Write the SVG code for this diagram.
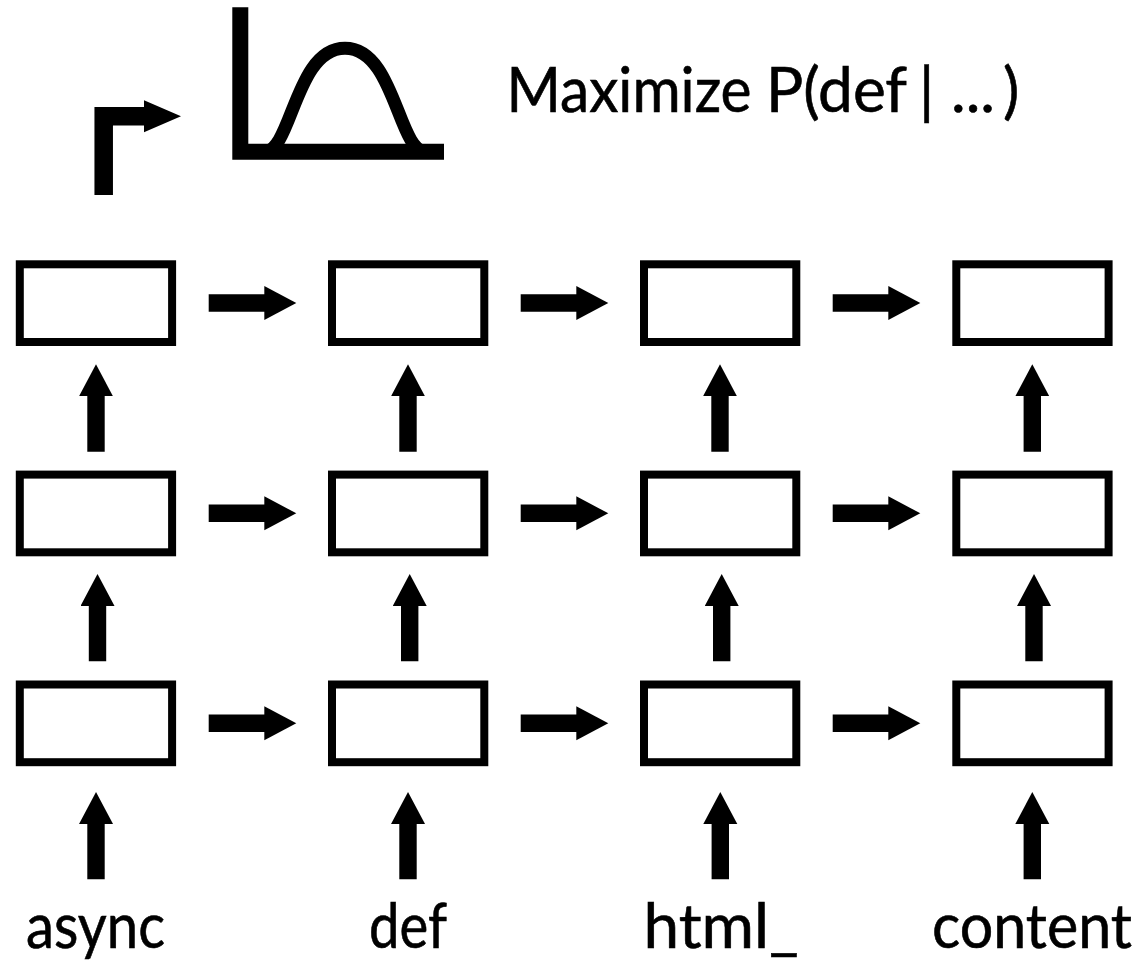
<svg xmlns="http://www.w3.org/2000/svg" width="1143" height="962" viewBox="0 0 1143 962">
<style>
.box{fill:#fff;stroke:#000;stroke-width:8}
.conn{fill:none;stroke:#000;stroke-width:17.4;marker-end:url(#head)}
.elbow{fill:none;stroke:#000;stroke-width:18.5;marker-end:url(#head2)}
.t{font-family:"Lato","Liberation Sans",sans-serif;fill:#000;stroke:#000;stroke-width:.6;font-size:61px}
</style>
<defs>
<marker id="head" markerUnits="userSpaceOnUse" markerWidth="33" markerHeight="35" refX="1" refY="17" orient="auto"><path d="M0 0L32 17L0 34z" fill="#000" stroke="none"/></marker>
<marker id="head2" markerUnits="userSpaceOnUse" markerWidth="38" markerHeight="34" refX="1" refY="16.2" orient="auto"><path d="M0 0L37.3 16.2L0 32.4z" fill="#000" stroke="none"/></marker>
</defs>
<rect width="1143" height="962" fill="#fff"/>
<g id="plot">
<path d="M240.3 7.3V151.8H444" fill="none" stroke="#000" stroke-width="16"/>
<path d="M264 152C292 152 295 48.2 345 48.2C395 48.2 398 152 426 152" fill="none" stroke="#000" stroke-width="13"/>
</g>
<text id="title" class="t" y="112"><tspan x="506.5" textLength="245" lengthAdjust="spacingAndGlyphs">Maximize</tspan> <tspan x="766" textLength="140" lengthAdjust="spacingAndGlyphs">P(def</tspan> <tspan x="919">|</tspan> <tspan x="951" textLength="44" lengthAdjust="spacingAndGlyphs">...</tspan> <tspan x="1003">)</tspan></text>
<g id="connectors">
<path class="elbow" d="M103.7 195V116.2H144.7"/>
<path class="conn" d="M208.7 303H265.3"/><path class="conn" d="M520.7 303H577.3"/><path class="conn" d="M832.7 303H889.3"/>
<path class="conn" d="M208.7 513.3H265.3"/><path class="conn" d="M520.7 513.3H577.3"/><path class="conn" d="M832.7 513.3H889.3"/>
<path class="conn" d="M208.7 723.3H265.3"/><path class="conn" d="M520.7 723.3H577.3"/><path class="conn" d="M832.7 723.3H889.3"/>
<path class="conn" d="M96 451.7V395.3"/><path class="conn" d="M408 451.7V395.3"/><path class="conn" d="M720 451.7V395.3"/><path class="conn" d="M1032.3 451.7V395.3"/>
<path class="conn" d="M97.5 661.3V605"/><path class="conn" d="M409.7 661.3V605"/><path class="conn" d="M721.7 661.3V605"/><path class="conn" d="M1034 661.3V605"/>
<path class="conn" d="M96 879.3V823"/><path class="conn" d="M408 879.3V823"/><path class="conn" d="M720.3 879.3V823"/><path class="conn" d="M1032.3 879.3V823"/>
</g>
<g id="n1"><rect class="box" x="19.8" y="264.3" width="152.3" height="77.7"/></g>
<g id="n2"><rect class="box" x="332" y="264.3" width="152.3" height="77.7"/></g>
<g id="n3"><rect class="box" x="644" y="264.3" width="152.3" height="77.7"/></g>
<g id="n4"><rect class="box" x="956.3" y="264.3" width="152.3" height="77.7"/></g>
<g id="n5"><rect class="box" x="19.8" y="474.6" width="152.3" height="77.7"/></g>
<g id="n6"><rect class="box" x="332" y="474.6" width="152.3" height="77.7"/></g>
<g id="n7"><rect class="box" x="644" y="474.6" width="152.3" height="77.7"/></g>
<g id="n8"><rect class="box" x="956.3" y="474.6" width="152.3" height="77.7"/></g>
<g id="n9"><rect class="box" x="19.8" y="684.5" width="152.3" height="77.7"/></g>
<g id="n10"><rect class="box" x="332" y="684.5" width="152.3" height="77.7"/></g>
<g id="n11"><rect class="box" x="644" y="684.5" width="152.3" height="77.7"/></g>
<g id="n12"><rect class="box" x="956.3" y="684.5" width="152.3" height="77.7"/></g>
<text class="t" x="26" y="948" textLength="139" lengthAdjust="spacingAndGlyphs">async</text>
<text class="t" x="369" y="948" textLength="78" lengthAdjust="spacingAndGlyphs">def</text>
<text class="t" x="643.5" y="948" textLength="155" lengthAdjust="spacingAndGlyphs">html_</text>
<text class="t" x="932" y="948" textLength="200" lengthAdjust="spacingAndGlyphs">content</text>
</svg>
